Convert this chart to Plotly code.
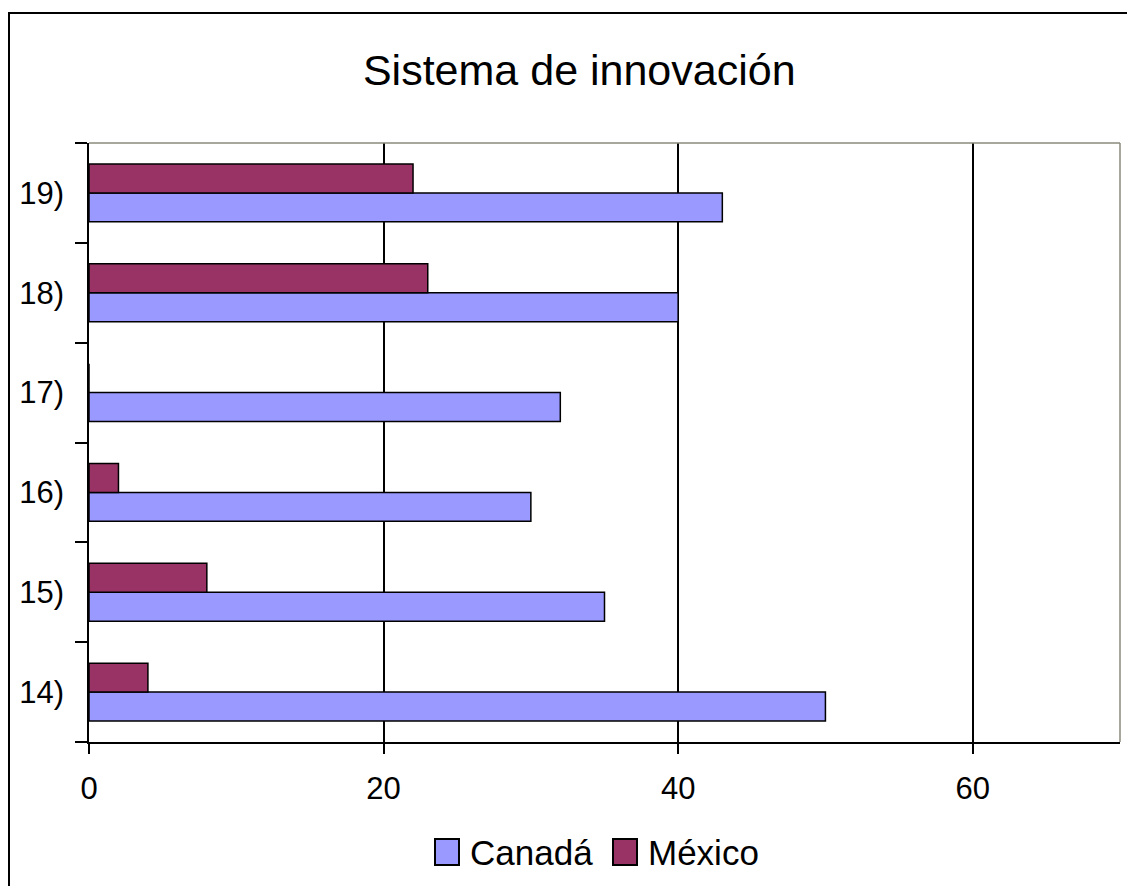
import plotly.graph_objects as go

# Indicator categories (bottom to top) and scores per country
categories = ["14)", "15)", "16)", "17)", "18)", "19)"]
canada = [50, 35, 30, 32, 40, 43]
mexico = [4, 8, 2, 0, 23, 22]
x_ticks = [0, 20, 40, 60]
series_names = ["Canadá", "México"]
series_colors = ["#9999FF", "#993366"]

FONT = "Arial, Liberation Sans, sans-serif"

# Plot-area geometry in pixels
W, H = 1127, 886
L, R, T, B = 89, 7, 143, 144
PW, PH = W - L - R, H - T - B


def px_x(px):
    return (px - L) / PW


def px_y(py):
    return (H - B - py) / PH


fig = go.Figure()
for name, vals, col in zip(series_names, [canada, mexico], series_colors):
    fig.add_trace(go.Bar(
        y=categories, x=vals, name=name, orientation="h", showlegend=False,
        marker=dict(color=col, line=dict(color="#000000", width=1.5)),
    ))

fig.update_layout(
    width=W, height=H,
    margin=dict(l=L, r=R, t=T, b=B),
    paper_bgcolor="white", plot_bgcolor="white",
    barmode="group", bargap=0.42, bargroupgap=0,
    font=dict(family=FONT, size=31, color="#000000"),
    title=dict(text="Sistema de innovación", x=0.514, xanchor="center",
               y=0.921, yanchor="middle", font=dict(family=FONT, size=43)),
    xaxis=dict(
        range=[0, 70], tickvals=x_ticks, ticks="outside", ticklen=10,
        tickcolor="#000000", tickwidth=1.5,
        showline=True, linecolor="#000000", linewidth=1.5,
        showgrid=True, gridcolor="#000000", gridwidth=1.5,
        zeroline=False, tickfont=dict(size=31), ticklabelstandoff=8,
    ),
    yaxis=dict(
        type="category", categoryorder="array", categoryarray=categories,
        ticks="outside", tickson="boundaries", ticklen=12,
        tickcolor="#000000", tickwidth=1.5,
        showline=True, linecolor="#000000", linewidth=1.5,
        showgrid=False, tickfont=dict(size=31), ticklabelstandoff=17,
    ),
)

# Plot-area frame on the top and right edges
fig.add_shape(type="line", xref="x domain", yref="y domain",
              x0=0, x1=1, y0=1, y1=1, line=dict(color="#8a8a7a", width=1.5))
fig.add_shape(type="line", xref="x domain", yref="y domain",
              x0=1, x1=1, y0=0, y1=1, line=dict(color="#8a8a7a", width=1.5))

# Outer chart border (right and bottom edges run past the page)
fig.add_shape(type="rect", xref="paper", yref="paper",
              x0=px_x(9), x1=px_x(1200), y0=px_y(950), y1=px_y(13),
              line=dict(color="#000000", width=2), layer="above")

# Legend: swatch squares with labels below the axis
legend_swatch_x = [435, 613]
legend_y0, legend_y1 = 839, 865
for name, col, sx in zip(series_names, series_colors, legend_swatch_x):
    fig.add_shape(type="rect", xref="paper", yref="paper",
                  x0=px_x(sx), x1=px_x(sx + 24), y0=px_y(legend_y1), y1=px_y(legend_y0),
                  fillcolor=col, line=dict(color="#000000", width=2))
    fig.add_annotation(text=name, xref="paper", yref="paper",
                       x=px_x(sx + 33), y=px_y((legend_y0 + legend_y1) / 2),
                       xanchor="left", yanchor="middle", showarrow=False,
                       font=dict(family=FONT, size=35, color="#000000"))

fig.write_html("out.html")
